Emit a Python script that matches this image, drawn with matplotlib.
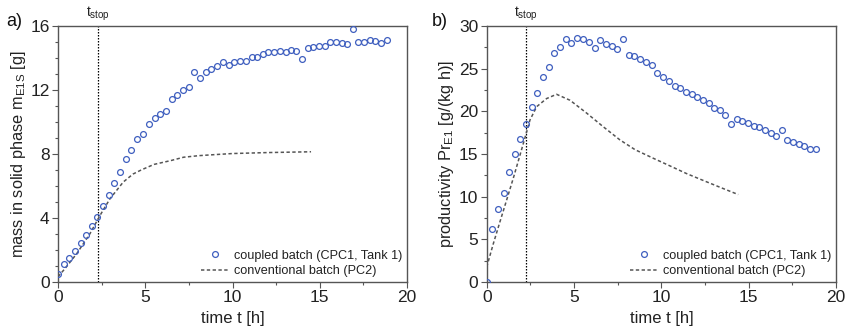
import matplotlib
matplotlib.use("Agg")
import matplotlib.pyplot as plt
from matplotlib.ticker import MultipleLocator

plt.rcParams['font.family'] = ['Liberation Sans', 'DejaVu Sans']
plt.rcParams['mathtext.fontset'] = 'custom'
plt.rcParams['mathtext.rm'] = 'Liberation Sans'
plt.rcParams['mathtext.it'] = 'Liberation Sans:italic'
plt.rcParams['mathtext.default'] = 'regular'

# sampling times of the coupled batch [h]
t_coupled = [0.00, 0.32, 0.65, 0.97, 1.30, 1.60, 1.93, 2.25, 2.58, 2.90,
             3.23, 3.55, 3.87, 4.20, 4.52, 4.85, 5.19, 5.53, 5.86, 6.18,
             6.51, 6.83, 7.16, 7.48, 7.81, 8.13, 8.46, 8.78, 9.12, 9.45,
             9.77, 10.10, 10.42, 10.76, 11.09, 11.41, 11.74, 12.06, 12.39, 12.71,
             13.04, 13.36, 13.66, 13.99, 14.31, 14.64, 14.96, 15.29, 15.61, 15.94,
             16.26, 16.58, 16.89, 17.21, 17.54, 17.86, 18.19, 18.51, 18.84]

# a) mass in solid phase, coupled batch [g]
m_coupled = [0.52, 1.15, 1.52, 1.92, 2.42, 2.96, 3.48, 4.05, 4.76, 5.42,
             6.20, 6.86, 7.68, 8.24, 8.91, 9.22, 9.85, 10.26, 10.53, 10.68,
             11.41, 11.68, 11.99, 12.22, 13.14, 12.75, 13.12, 13.29, 13.50, 13.73,
             13.58, 13.73, 13.81, 13.81, 14.04, 14.04, 14.25, 14.37, 14.39, 14.46,
             14.37, 14.48, 14.43, 13.91, 14.62, 14.69, 14.77, 14.77, 15.00, 15.00,
             14.94, 14.87, 15.79, 15.00, 15.00, 15.10, 15.08, 14.91, 15.14]

# b) productivity, coupled batch [g/(kg h)]
pr_coupled = [0.00, 6.18, 8.60, 10.48, 12.87, 14.98, 16.78, 18.46, 20.53, 22.14,
              23.97, 25.15, 26.87, 27.53, 28.47, 28.04, 28.55, 28.51, 28.16, 27.41,
              28.31, 27.92, 27.69, 27.26, 28.43, 26.63, 26.52, 26.12, 25.77, 25.46,
              24.48, 24.05, 23.58, 23.00, 22.76, 22.29, 22.02, 21.74, 21.31, 20.96,
              20.38, 20.10, 19.59, 18.54, 19.12, 18.85, 18.62, 18.26, 18.22, 17.83,
              17.44, 17.09, 17.87, 16.62, 16.39, 16.23, 15.96, 15.53, 15.53]

# conventional batch (PC2)
t_conv_m = [0.0, 0.4, 1.07, 1.83, 2.41, 2.98, 3.74, 4.3, 4.8, 5.5, 6.5,
            7.2, 8.1, 9.1, 10.0, 12.0, 14.5]
m_conv = [0.33, 0.84, 1.77, 3.02, 4.17, 5.21, 6.25, 6.75, 7.02, 7.35, 7.6,
          7.8, 7.9, 7.97, 8.03, 8.09, 8.14]

t_conv_pr = [0.0, 0.38, 0.76, 1.14, 1.52, 1.91, 2.19, 2.48, 2.86, 3.43, 4.0,
             4.77, 5.72, 6.67, 7.63, 8.5, 9.54, 10.5, 11.45, 12.4, 13.36, 14.4]
pr_conv = [1.76, 4.5, 7.07, 9.6, 12.15, 14.9, 16.9, 19.0, 20.55, 21.5, 22.0,
           21.3, 19.8, 18.2, 16.65, 15.5, 14.5, 13.6, 12.7, 11.9, 11.1, 10.25]

t_stop_a = 2.3
t_stop_b = 2.25

blue = '#3f5fbf'
grey = '#555555'

fig = plt.figure(figsize=(8.46, 3.32), dpi=100)
ax_a = fig.add_axes([0.0686, 0.1506, 0.4125, 0.771])
ax_b = fig.add_axes([0.5753, 0.1506, 0.4129, 0.771])


def style_axes(ax, ymax, ymajor, yminor):
    ax.set_xlim(0, 20)
    ax.set_ylim(0, ymax)
    ax.xaxis.set_major_locator(MultipleLocator(5))
    ax.xaxis.set_minor_locator(MultipleLocator(2.5))
    ax.yaxis.set_major_locator(MultipleLocator(ymajor))
    ax.yaxis.set_minor_locator(MultipleLocator(yminor))
    for s in ax.spines.values():
        s.set_color(grey)
        s.set_linewidth(1.0)
    ax.tick_params(which='major', direction='out', length=4, width=0.8,
                   color=grey, labelsize=12.5, labelcolor='#222222', pad=2)
    ax.tick_params(which='minor', direction='out', length=2.5, width=0.8,
                   color=grey)
    ax.set_xlabel('time t [h]', fontsize=12, labelpad=4, color='#222222')


def draw(ax, t_stop, y, t_conv, y_conv):
    ax.plot(t_coupled, y, linestyle='none', marker='o', markersize=4.2,
            markerfacecolor='none', markeredgecolor=blue, markeredgewidth=0.9,
            label='coupled batch (CPC1, Tank 1)', clip_on=True, zorder=3)
    ax.plot(t_conv, y_conv, color=grey, linewidth=1.1, dashes=(2.2, 1.6),
            label='conventional batch (PC2)', zorder=2)
    ax.axvline(t_stop, color='black', linewidth=0.9, dashes=(1.2, 1.2),
               zorder=1)
    ax.text(t_stop, 1.012, r'$t_{\mathrm{stop}}$', transform=ax.get_xaxis_transform(),
            ha='center', va='bottom', fontsize=10, color='#222222')
    leg = ax.legend(loc='lower right', frameon=False, fontsize=9.1,
                    handlelength=2.2, handletextpad=0.4, borderaxespad=0.1,
                    borderpad=0.3, labelspacing=0.25)
    for txt in leg.get_texts():
        txt.set_color('#222222')


style_axes(ax_a, 16, 4, 1)
draw(ax_a, t_stop_a, m_coupled, t_conv_m, m_conv)
ax_a.set_ylabel(r'mass in solid phase m$_{\mathrm{E1S}}$ [g]', fontsize=11.8,
                labelpad=2, color='#222222')

style_axes(ax_b, 30, 5, 2.5)
draw(ax_b, t_stop_b, pr_coupled, t_conv_pr, pr_conv)
ax_b.set_ylabel(r'productivity Pr$_{\mathrm{E1}}$ [g/(kg h)]', fontsize=11.8,
                labelpad=2, color='#222222')

fig.text(0.007, 0.935, 'a)', fontsize=13, color='#111111', va='center')
fig.text(0.510, 0.935, 'b)', fontsize=13, color='#111111', va='center')

fig.savefig('out.png', dpi=100)
